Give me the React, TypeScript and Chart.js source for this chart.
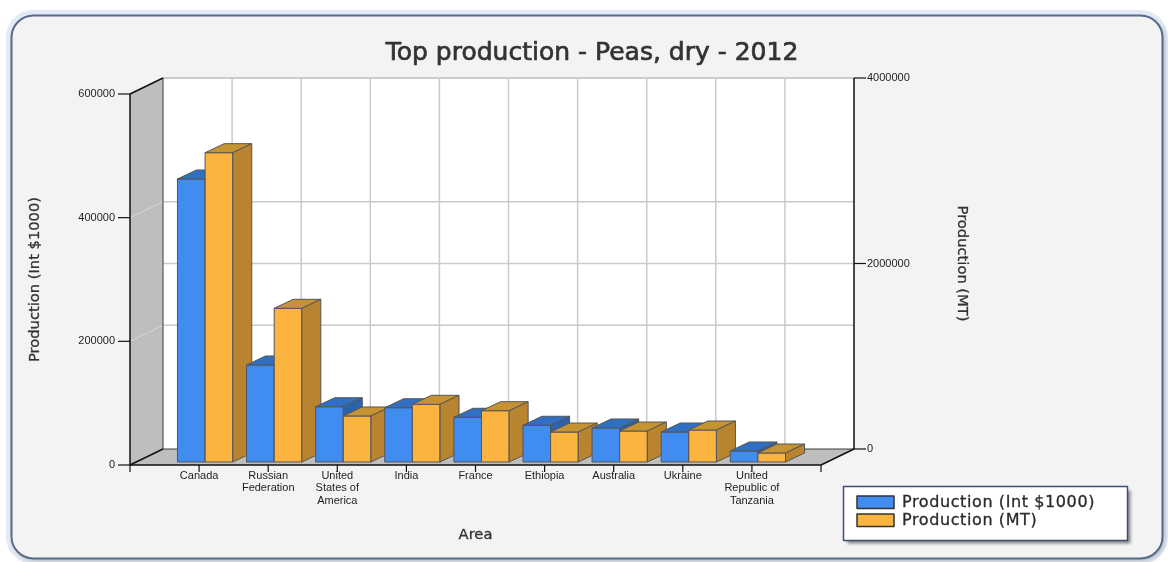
import { useEffect, useRef } from 'react';
import { Chart, registerables } from 'chart.js';

Chart.register(...registerables);

// ---------- data ----------
const chartTitle = 'Top production - Peas, dry - 2012';
const categories = [
  'Canada',
  'Russian\nFederation',
  'United\nStates of\nAmerica',
  'India',
  'France',
  'Ethiopia',
  'Australia',
  'Ukraine',
  'United\nRepublic of\nTanzania',
];
const seriesNames = ['Production (Int $1000)', 'Production (MT)'];
const productionInt = [457700, 156900, 89400, 87800, 72300, 59400, 55000, 48500, 17800];
const productionMT = [3335000, 1657000, 496000, 622000, 553000, 323000, 334000, 345000, 97000];
const leftAxisRange = [0, 600000, 200000];
const rightAxisRange = [0, 4000000, 2000000];
const xAxisTitle = 'Area';
const yAxisTitle = 'Production (Int $1000)';
const y1AxisTitle = 'Production (MT)';

// ---------- style ----------
const W = 1168;
const H = 562;
const DX = 33; // wall depth
const DY = -16;
const BFX = 6; // bar front depth offset
const BFY = -3;
const BDX = 19; // bar depth
const BDY = -9;
const frontColors = ['#418cf0', '#fcb441'];
const topColors = ['#316fc3', '#c69333'];
const sideColors = ['#2b62ad', '#b8842f'];
const TICK_FONT = '11px "Liberation Sans", Arial, sans-serif';
const TITLE_FONT = '25px "DejaVu Sans", Verdana, sans-serif';
const AXIS_FONT = '14.7px "DejaVu Sans", Verdana, sans-serif';
const LEGEND_FONT = '16px "DejaVu Sans", Verdana, sans-serif';

type Pt = [number, number];

function poly(ctx: CanvasRenderingContext2D, pts: Pt[], fill?: string, stroke?: string, lw = 1) {
  ctx.beginPath();
  ctx.moveTo(pts[0][0], pts[0][1]);
  for (let i = 1; i < pts.length; i++) ctx.lineTo(pts[i][0], pts[i][1]);
  ctx.closePath();
  if (fill) {
    ctx.fillStyle = fill;
    ctx.fill();
  }
  if (stroke) {
    ctx.strokeStyle = stroke;
    ctx.lineWidth = lw;
    ctx.stroke();
  }
}

function line(ctx: CanvasRenderingContext2D, x1: number, y1: number, x2: number, y2: number, color: string, lw = 1) {
  ctx.beginPath();
  ctx.moveTo(x1, y1);
  ctx.lineTo(x2, y2);
  ctx.strokeStyle = color;
  ctx.lineWidth = lw;
  ctx.stroke();
}

function roundRect(ctx: CanvasRenderingContext2D, x: number, y: number, w: number, h: number, r: number) {
  ctx.beginPath();
  ctx.moveTo(x + r, y);
  ctx.lineTo(x + w - r, y);
  ctx.arcTo(x + w, y, x + w, y + r, r);
  ctx.lineTo(x + w, y + h - r);
  ctx.arcTo(x + w, y + h, x + w - r, y + h, r);
  ctx.lineTo(x + r, y + h);
  ctx.arcTo(x, y + h, x, y + h - r, r);
  ctx.lineTo(x, y + r);
  ctx.arcTo(x, y, x + r, y, r);
  ctx.closePath();
}

function heavyText(ctx: CanvasRenderingContext2D, s: string, x: number, y: number, color: string, w: number) {
  ctx.fillStyle = color;
  ctx.fillText(s, x, y);
  ctx.strokeStyle = color;
  ctx.lineWidth = w;
  ctx.lineJoin = 'round';
  ctx.strokeText(s, x, y);
}

const pseudo3d = {
  id: 'pseudo3d',
  beforeDraw(chart: any) {
    const ctx: CanvasRenderingContext2D = chart.ctx;
    const { left, right, top, bottom } = chart.chartArea;
    const xs = chart.scales.x;
    const ys = chart.scales.y;
    const ys1 = chart.scales.y1;
    ctx.save();
    ctx.fillStyle = '#ffffff';
    ctx.fillRect(0, 0, W, H);
    // frame
    roundRect(ctx, 8.5, 12.5, 1157, 549, 25);
    ctx.strokeStyle = '#e2ebf5';
    ctx.lineWidth = 5;
    ctx.stroke();
    ctx.save();
    ctx.shadowColor = 'rgba(0,0,0,0.25)';
    ctx.shadowOffsetX = 2;
    ctx.shadowOffsetY = 2;
    ctx.shadowBlur = 4;
    roundRect(ctx, 11.5, 15.5, 1151, 543, 22);
    ctx.fillStyle = '#f3f3f3';
    ctx.fill();
    ctx.restore();
    roundRect(ctx, 11.5, 15.5, 1151, 543, 22);
    ctx.strokeStyle = '#586a89';
    ctx.lineWidth = 2;
    ctx.stroke();

    // title
    ctx.font = TITLE_FONT;
    ctx.textAlign = 'center';
    ctx.textBaseline = 'alphabetic';
    heavyText(ctx, chartTitle, 592, 60, '#333333', 0.7);

    // back wall
    poly(ctx, [[left + DX, top + DY], [right + DX, top + DY], [right + DX, bottom + DY], [left + DX, bottom + DY]], '#ffffff');
    // gridlines on back wall
    const gridYs: number[] = [];
    ys.ticks.forEach((t: any) => { if (t.value !== 0) gridYs.push(ys.getPixelForValue(t.value) + DY); });
    ys1.ticks.forEach((t: any) => { if (t.value !== 0) gridYs.push(ys1.getPixelForValue(t.value) + DY); });
    gridYs.forEach((gy) => line(ctx, left + DX, gy, right + DX, gy, '#cacaca', 1.5));
    for (let k = 1; k <= categories.length; k++) {
      const gx = xs.getPixelForValue(k) + DX;
      line(ctx, gx, top + DY, gx, bottom + DY, '#cacaca', 1.5);
    }
    // left wall
    poly(ctx, [[left, top], [left + DX, top + DY], [left + DX, bottom + DY], [left, bottom]], '#bebebe');
    ys.ticks.forEach((t: any) => {
      if (t.value === 0 || t.value === leftAxisRange[1]) return;
      const py = ys.getPixelForValue(t.value);
      line(ctx, left, py, left + DX, py + DY, 'rgba(255,255,255,0.35)', 1);
    });
    // floor
    poly(ctx, [[left, bottom], [right, bottom], [right + DX, bottom + DY], [left + DX, bottom + DY]], '#bebebe');
    // edges
    line(ctx, left + DX, top + DY, left + DX, bottom + DY, '#3a3a3a', 1);
    line(ctx, left + DX, bottom + DY, right + DX, bottom + DY, '#3a3a3a', 1);
    line(ctx, left, top, left + DX, top + DY, '#111', 1.5);
    line(ctx, left, bottom, left + DX, bottom + DY, '#111', 1.5);
    line(ctx, left, top, left, bottom, '#111', 1.5);
    line(ctx, left, bottom, right, bottom, '#111', 1.5);
    line(ctx, right, bottom, right + DX, bottom + DY, '#111', 1.5);
    line(ctx, right + DX, top + DY, right + DX, bottom + DY, '#111', 1.5);
    ctx.restore();
  },
  beforeDatasetsDraw(chart: any) {
    const ctx: CanvasRenderingContext2D = chart.ctx;
    ctx.save();
    const n = chart.data.labels.length;
    for (let j = 0; j < n; j++) {
      chart.data.datasets.forEach((ds: any, i: number) => {
        const v = ds.data[j];
        if (v === null || v === undefined) return;
        const el = chart.getDatasetMeta(i).data[j];
        const x0 = el.x - el.width / 2 + BFX;
        const x1 = el.x + el.width / 2 + BFX;
        const yt = el.y + BFY;
        const yb = el.base + BFY;
        const edge = '#555555';
        poly(ctx, [[x0, yt], [x1, yt], [x1, yb], [x0, yb]], frontColors[i], edge, 1);
        poly(ctx, [[x0, yt], [x1, yt], [x1 + BDX, yt + BDY], [x0 + BDX, yt + BDY]], topColors[i], edge, 1);
        poly(ctx, [[x1, yt], [x1 + BDX, yt + BDY], [x1 + BDX, yb + BDY], [x1, yb]], sideColors[i], edge, 1);
      });
    }
    ctx.restore();
    return false;
  },
  afterDraw(chart: any) {
    const ctx: CanvasRenderingContext2D = chart.ctx;
    const { left, right, top, bottom } = chart.chartArea;
    const xs = chart.scales.x;
    const ys = chart.scales.y;
    const ys1 = chart.scales.y1;
    ctx.save();
    ctx.font = TICK_FONT;
    ctx.fillStyle = '#1e1e1e';
    // left axis ticks
    ctx.textAlign = 'right';
    ctx.textBaseline = 'middle';
    ys.ticks.forEach((t: any) => {
      const py = ys.getPixelForValue(t.value);
      line(ctx, left - 12, py, left, py, '#111', 1.2);
      ctx.fillText(String(t.value), left - 15, py);
    });
    // right axis ticks
    ctx.textAlign = 'left';
    ys1.ticks.forEach((t: any) => {
      const py = ys1.getPixelForValue(t.value) + DY;
      line(ctx, right + DX, py, right + DX + 12, py, '#111', 1.2);
      ctx.fillText(String(t.value), right + DX + 13, py);
    });
    // x ticks
    ctx.textAlign = 'center';
    ctx.textBaseline = 'top';
    for (let k = 0; k <= categories.length + 1; k++) {
      const px = xs.getPixelForValue(k);
      line(ctx, px, bottom, px, bottom + 7, '#111', 1.2);
      const lbl = chart.data.labels[k];
      if (lbl) {
        String(lbl).split('\n').forEach((s: string, li: number) => {
          ctx.fillText(s, px, bottom + 5.5 + li * 12.3);
        });
      }
    }
    // axis titles
    ctx.font = AXIS_FONT;
    ctx.textBaseline = 'middle';
    ctx.textAlign = 'center';
    heavyText(ctx, xAxisTitle, (left + right) / 2, 535, '#333333', 0.3);
    ctx.save();
    ctx.translate(35, (top + bottom) / 2);
    ctx.rotate(-Math.PI / 2);
    heavyText(ctx, yAxisTitle, 0, 0, '#333333', 0.3);
    ctx.restore();
    ctx.save();
    ctx.translate(962, (top + bottom) / 2 + DY);
    ctx.rotate(Math.PI / 2);
    heavyText(ctx, y1AxisTitle, 0, 0, '#333333', 0.3);
    ctx.restore();

    // legend
    ctx.save();
    ctx.shadowColor = 'rgba(0,0,0,0.45)';
    ctx.shadowOffsetX = 3;
    ctx.shadowOffsetY = 3;
    ctx.shadowBlur = 3;
    ctx.fillStyle = '#ffffff';
    ctx.fillRect(843.5, 486.5, 284, 54);
    ctx.restore();
    ctx.strokeStyle = '#3d5070';
    ctx.lineWidth = 1.5;
    ctx.strokeRect(843.5, 486.5, 284, 54);
    ctx.font = LEGEND_FONT;
    (ctx as any).letterSpacing = '0.6px';
    ctx.textAlign = 'left';
    ctx.textBaseline = 'middle';
    chart.data.datasets.forEach((ds: any, i: number) => {
      const ry = 496 + i * 18;
      ctx.fillStyle = frontColors[i];
      ctx.fillRect(857, ry, 37, 12.5);
      ctx.strokeStyle = '#333333';
      ctx.lineWidth = 1.5;
      ctx.strokeRect(857, ry, 37, 12.5);
      heavyText(ctx, ds.label, 902, ry + 6.5, '#2a2a2a', 0.3);
    });
    (ctx as any).letterSpacing = '0px';
    ctx.restore();
  },
};

export default function App() {
  const ref = useRef<HTMLCanvasElement>(null);
  useEffect(() => {
    const canvas = ref.current;
    if (!canvas) return;
    const labels = ['', ...categories, ''];
    const chart = new Chart(canvas, {
      type: 'bar',
      data: {
        labels,
        datasets: [
          {
            label: seriesNames[0],
            data: [null, ...productionInt, null],
            backgroundColor: frontColors[0],
            yAxisID: 'y',
            categoryPercentage: 0.8,
            barPercentage: 1,
          },
          {
            label: seriesNames[1],
            data: [null, ...productionMT, null],
            backgroundColor: frontColors[1],
            yAxisID: 'y1',
            categoryPercentage: 0.8,
            barPercentage: 1,
          },
        ],
      },
      options: {
        responsive: false,
        devicePixelRatio: 1,
        animation: false,
        layout: { padding: { left: 130, top: 94, right: W - 821, bottom: H - 465 } },
        plugins: {
          legend: { display: false },
          title: { display: false },
          tooltip: { enabled: false },
        },
        scales: {
          x: { type: 'category', display: false, offset: false, grid: { offset: false } },
          y: {
            display: false,
            position: 'left',
            min: leftAxisRange[0],
            max: leftAxisRange[1],
            ticks: { stepSize: leftAxisRange[2] },
          },
          y1: {
            display: false,
            position: 'right',
            min: rightAxisRange[0],
            max: rightAxisRange[1],
            ticks: { stepSize: rightAxisRange[2] },
          },
        },
      } as any,
      plugins: [pseudo3d as any],
    });
    return () => chart.destroy();
  }, []);
  return (
    <div style={{ position: 'fixed', left: 0, top: 0, width: W, height: H }}>
      <canvas ref={ref} width={W} height={H} style={{ display: 'block', width: W, height: H }} />
    </div>
  );
}
